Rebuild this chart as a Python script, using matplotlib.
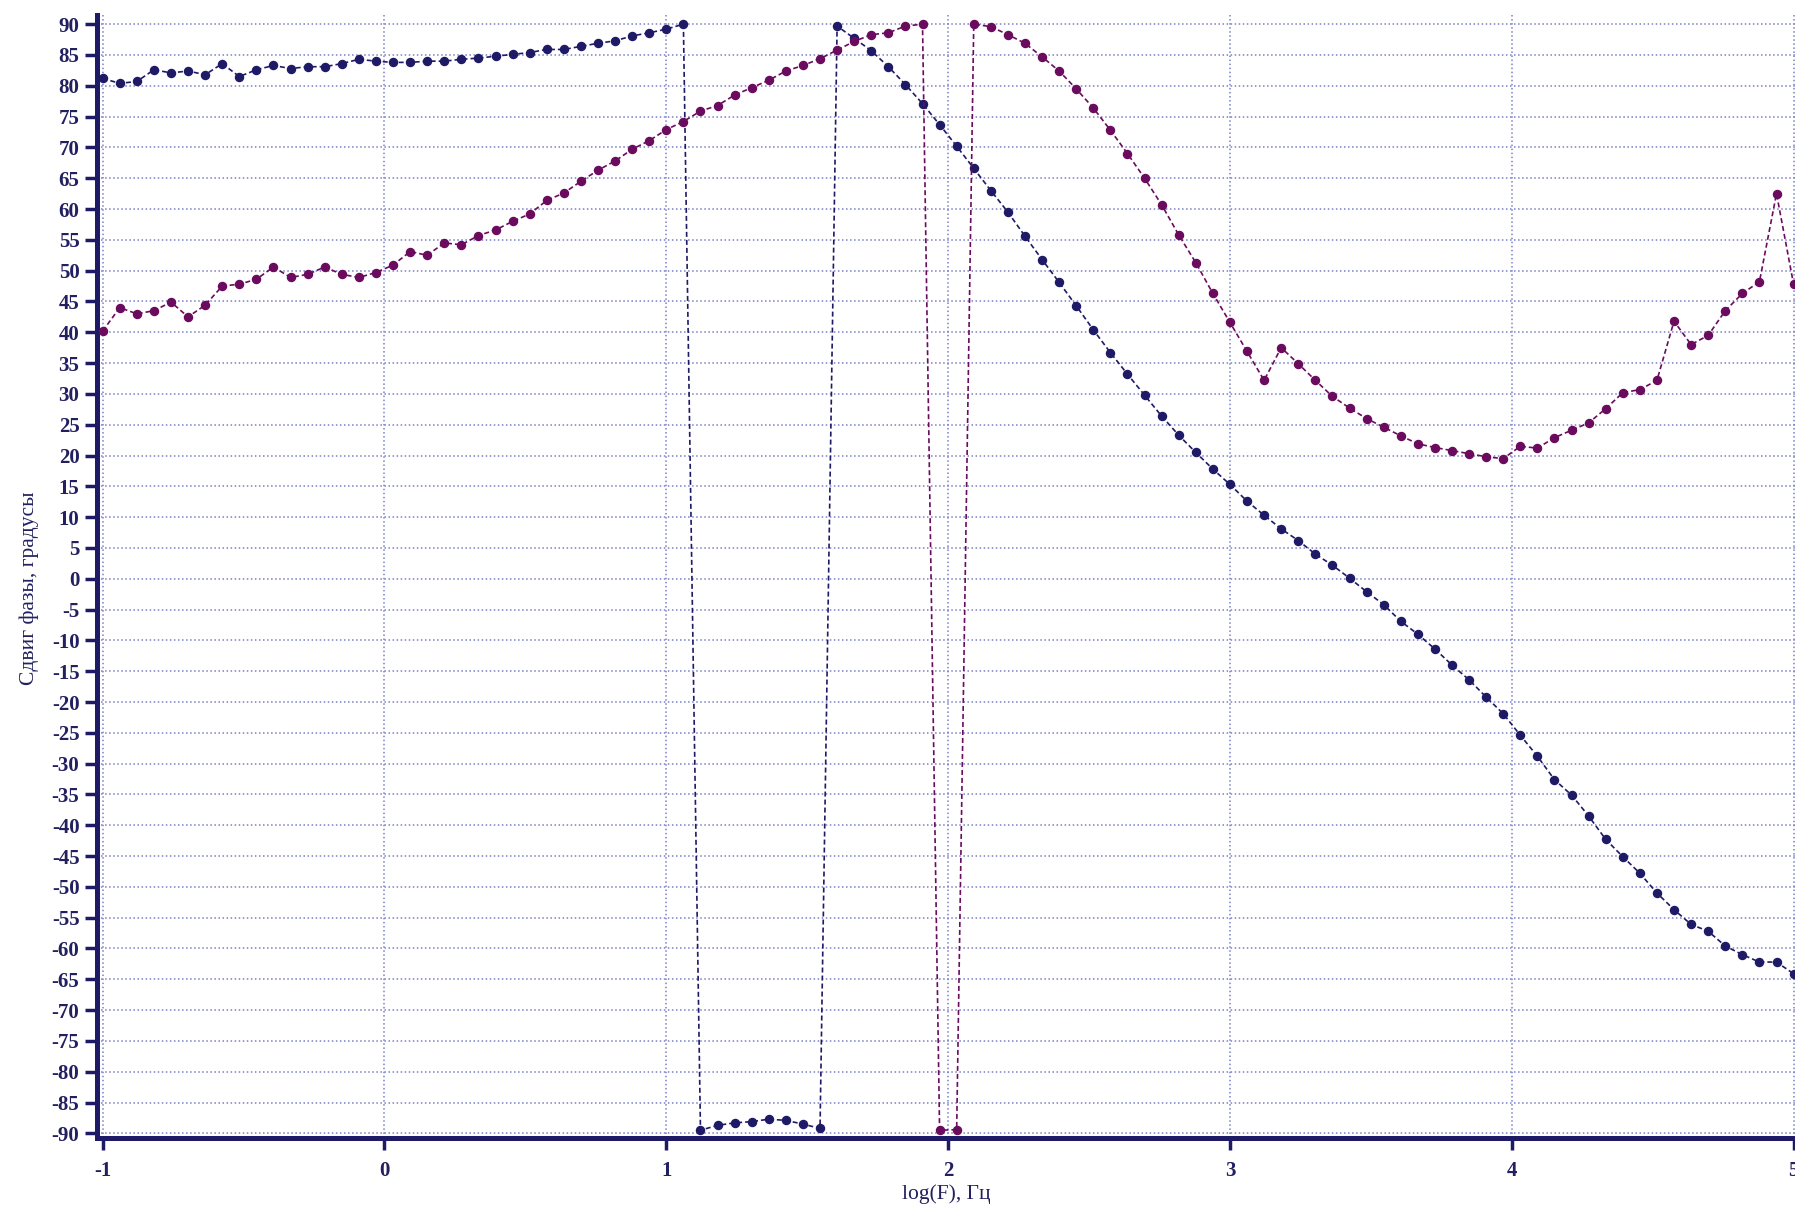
import numpy as np
import matplotlib
matplotlib.use("Agg")
import matplotlib.pyplot as plt

plt.rcParams['font.family'] = ['Liberation Serif', 'DejaVu Serif']
plt.rcParams['axes.unicode_minus'] = False

# frequency grid: 100 points, equally spaced in log(F) from -1 to 5
log_f = np.linspace(-1, 5, 100)

phase_1 = [
    81.2, 80.4, 80.7, 82.6, 82.1, 82.4, 81.8, 83.6, 81.5, 82.6,
    83.3, 82.8, 83.1, 83.1, 83.6, 84.3, 84.0, 83.8, 83.8, 84.0,
    84.0, 84.3, 84.5, 84.8, 85.1, 85.4, 85.9, 85.9, 86.4, 86.9,
    87.3, 88.1, 88.6, 89.2, 90.0,
    -89.5, -88.7, -88.3, -88.1, -87.7, -87.9, -88.5, -89.2,
    89.7, 87.7, 85.7, 83.1, 80.2, 77.1, 73.7, 70.2, 66.6, 63.0,
    59.5, 55.6, 51.8, 48.1, 44.3, 40.4, 36.7, 33.2, 29.8,
    26.4, 23.3, 20.5, 17.8, 15.3, 12.6, 10.3, 8.1, 6.2, 4.0,
    2.2, 0.1, -2.1, -4.2, -6.9, -9.0, -11.4, -14.0, -16.4, -19.2,
    -21.9, -25.4, -28.8, -32.6, -35.1, -38.5, -42.3, -45.1, -47.8, -51.0,
    -53.7, -56.1, -57.2, -59.6, -61.0, -62.2, -62.2, -64.1,
]

phase_2 = [
    40.2, 44.0, 43.0, 43.5, 44.9, 42.5, 44.4, 47.5, 47.8, 48.6,
    50.6, 48.9, 49.4, 50.6, 49.4, 48.9, 49.7, 50.9, 53.1, 52.5,
    54.5, 54.2, 55.7, 56.6, 58.0, 59.2, 61.4, 62.6, 64.5, 66.3,
    67.8, 69.7, 71.1, 72.9, 74.2, 75.9,
    76.8, 78.5, 79.7, 80.9, 82.4, 83.3, 84.4, 85.8, 87.2, 88.3,
    88.6, 89.7, 90.0,
    -89.5, -89.4,
    90.0, 89.6, 88.3, 86.9, 84.7,
    82.4, 79.5, 76.4, 72.8, 69.0, 65.0, 60.7, 55.8, 51.3, 46.3,
    41.6, 36.9, 32.2, 37.5, 34.9, 32.2, 29.6, 27.7, 26.0, 24.6,
    23.2, 21.9, 21.3, 20.8, 20.3, 19.8, 19.5, 21.5, 21.2, 22.9,
    24.1, 25.3, 27.6, 30.2, 30.7, 32.2, 41.8, 38.0, 39.5, 43.5,
    46.3, 48.2, 62.5, 47.8,
]

x_ticks = [-1, 0, 1, 2, 3, 4, 5]
y_ticks = list(range(-90, 91, 5))

navy = "#1f1a66"
purple = "#6b0b5e"
text_col = "#22205f"
grid_col = "#7a80c8"

fig = plt.figure(figsize=(17.95, 12.25), dpi=100)
ax = fig.add_axes([0.0539, 0.0708, 0.9461, 0.917])

ax.plot(log_f, phase_1, color=navy, lw=1.2, ls=(0, (3, 1.8)),
        marker='o', ms=5.8, mec=navy, mfc=navy, zorder=3)
ax.plot(log_f, phase_2, color=purple, lw=1.2, ls=(0, (3, 1.8)),
        marker='o', ms=5.8, mec=purple, mfc=purple, zorder=3)

ax.set_xlim(-1.021, 5.005)
ax.set_ylim(-90.8, 91.5)
ax.set_xticks(x_ticks)
ax.set_yticks(y_ticks)
ax.grid(True, ls=':', lw=1.1, color=grid_col)

for s in ['top', 'right']:
    ax.spines[s].set_visible(False)
for s in ['left', 'bottom']:
    ax.spines[s].set_linewidth(3.6)
    ax.spines[s].set_color(navy)

ax.tick_params(axis='y', direction='out', length=8.5, width=2.5, color=navy,
               labelsize=15, labelcolor=text_col, pad=4)
ax.tick_params(axis='x', direction='out', length=8.5, width=2.5, color=navy,
               labelsize=15, labelcolor=text_col, pad=8)
for lab in ax.get_xticklabels() + ax.get_yticklabels():
    lab.set_fontweight('bold')

ax.set_ylabel("Сдвиг фазы, градусы", fontsize=15.5, color=text_col)
ax.set_xlabel("log(F), Гц", fontsize=15.5, color=text_col)
ax.yaxis.set_label_coords(-0.034, 0.49)
ax.xaxis.set_label_coords(0.5, -0.041)

fig.savefig("out.png", dpi=100)
